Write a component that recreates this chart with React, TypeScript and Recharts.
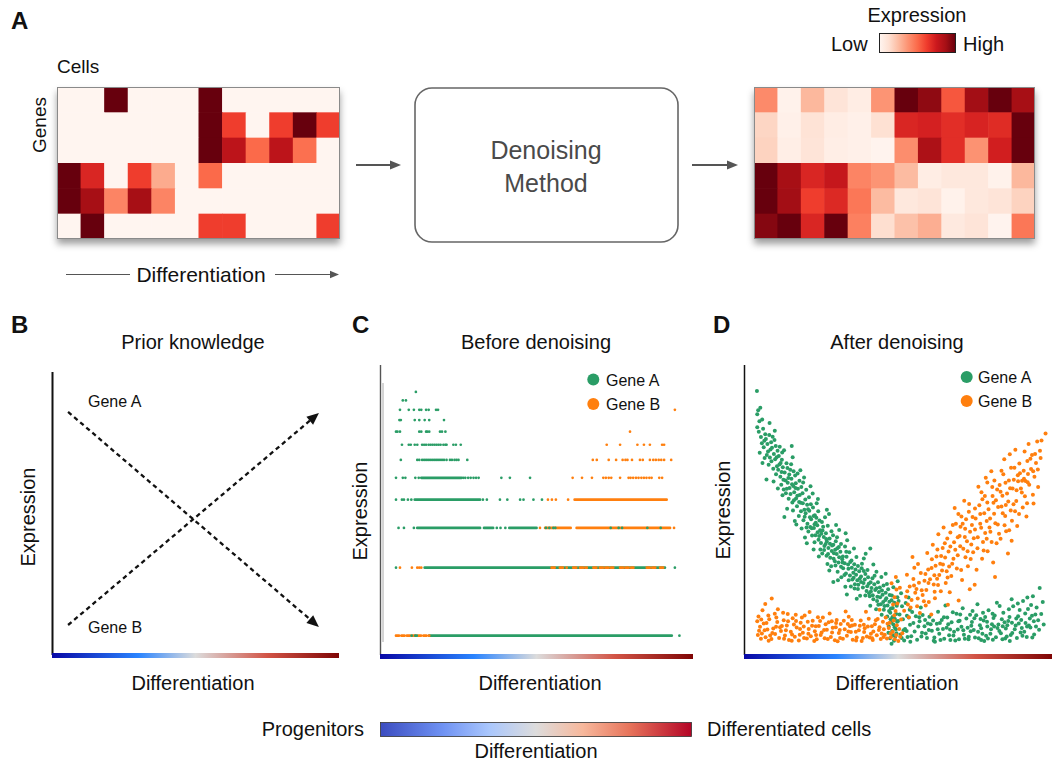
import React from 'react';
import { ScatterChart, Scatter, XAxis, YAxis } from 'recharts';

const FONT = '"Liberation Sans", Arial, Helvetica, sans-serif';
const GREEN = '#2a9d66';
const ORANGE = '#ff7f0e';
const INK = '#111';

// ---------- Panel A: heatmaps (expression 0..1, rows = genes, cols = cells) ----------
const rawExpression: number[][] = [
  [0, 0, 1, 0, 0, 0, 1, 0, 0, 0, 0, 0],
  [0, 0, 0, 0, 0, 0, 1, 0.62, 0, 0.62, 1, 0.62],
  [0, 0, 0, 0, 0, 0, 1, 0.8, 0.5, 0.8, 0.48, 0],
  [1, 0.7, 0, 0.62, 0.3, 0, 0.5, 0, 0, 0, 0, 0],
  [1, 0.87, 0.42, 0.87, 0.42, 0, 0, 0, 0, 0, 0, 0],
  [0, 1, 0, 0, 0, 0, 0.62, 0.62, 0, 0, 0, 0.62],
];
const denoisedExpression: number[][] = [
  [0.4, 0.02, 0.26, 0.1, 0.05, 0.37, 1, 0.92, 0.55, 0.88, 1, 0.87],
  [0.16, 0.03, 0.11, 0.05, 0.03, 0.12, 0.7, 0.72, 0.67, 0.71, 0.68, 1],
  [0.17, 0.04, 0.1, 0.04, 0.03, 0.01, 0.39, 0.85, 0.67, 0.375, 0.73, 1],
  [1, 0.87, 0.7, 0.77, 0.42, 0.37, 0.25, 0.05, 0.08, 0.08, 0.02, 0.26],
  [1, 0.88, 0.62, 0.69, 0.46, 0.25, 0.08, 0.1, 0.02, 0.08, 0.1, 0.17],
  [0.94, 1, 0.7, 1, 0.43, 0.13, 0.23, 0.29, 0.07, 0.1, 0.01, 0.46],
];

const REDS = ['#fff5f0', '#fee0d2', '#fcbba1', '#fc9272', '#fb6a4a', '#ef3b2c', '#cb181d', '#a50f15', '#67000d'];
function hex(h: string) {
  return [parseInt(h.slice(1, 3), 16), parseInt(h.slice(3, 5), 16), parseInt(h.slice(5, 7), 16)];
}
function reds(v: number) {
  const x = Math.max(0, Math.min(1, v)) * (REDS.length - 1);
  const i = Math.min(Math.floor(x), REDS.length - 2);
  const f = x - i;
  const a = hex(REDS[i]);
  const b = hex(REDS[i + 1]);
  const c = a.map((av, k) => Math.round(av + (b[k] - av) * f));
  return `rgb(${c[0]},${c[1]},${c[2]})`;
}

// ---------- Panel B: prior knowledge trends (pseudotime 0..100, expression 0..100) ----------
const priorGeneA = [
  { x: 5.6, y: 85.9 },
  { x: 93.0, y: 9.9 },
];
const priorGeneB = [
  { x: 5.6, y: 10.6 },
  { x: 93.0, y: 85.5 },
];

// ---------- Panel C: raw counts along pseudotime (t 0..1) ----------
const rawDotsA: [number, number[]][] = [
  [11, [0.07]],
  [10, [0.024, 0.035]],
  [9, [0.014, 0.045, 0.063, 0.082, 0.089, 0.106, 0.115, 0.141, 0.148]],
  [8, [0.012, 0.017, 0.066, 0.082, 0.101, 0.117, 0.169]],
  [7, [0.0, 0.005, 0.014, 0.082, 0.089, 0.106, 0.11, 0.117, 0.155, 0.162, 0.174]],
  [6, [0.021, 0.045, 0.052, 0.066, 0.075, 0.092, 0.099, 0.106, 0.115, 0.122, 0.129, 0.136, 0.143, 0.15, 0.157, 0.167, 0.174, 0.178, 0.202, 0.211, 0.228]],
  [5, [0.017, 0.075, 0.082, 0.092, 0.099, 0.106, 0.113, 0.12, 0.127, 0.134, 0.141, 0.148, 0.155, 0.162, 0.169, 0.178, 0.19, 0.197, 0.206, 0.213, 0.22, 0.251]],
  [4, [0.0, 0.024, 0.033, 0.068, 0.08, 0.237, 0.244, 0.254, 0.263, 0.273, 0.282, 0.291, 0.371, 0.401, 0.472]],
  [3, [0.0, 0.021, 0.028, 0.042, 0.054, 0.306, 0.32, 0.366, 0.392, 0.437, 0.449, 0.484, 0.514]],
  [2, [0.009, 0.028, 0.063, 0.355, 0.368, 0.385, 0.528, 0.54, 0.554, 0.561, 0.756, 0.784, 0.796, 0.885, 0.932]],
  [1, [0.0, 0.982]],
  [0, [0.055, 0.068, 0.073, 0.998]],
];
const rawDotsB: [number, number[]][] = [
  [9, [0.982]],
  [7, [0.824]],
  [6, [0.742, 0.789, 0.85, 0.873, 0.894, 0.937, 0.944]],
  [5, [0.693, 0.707, 0.749, 0.775, 0.798, 0.808, 0.815, 0.831, 0.859, 0.869, 0.894, 0.906, 0.915, 0.925, 0.934, 0.944, 0.969]],
  [4, [0.622, 0.655, 0.69, 0.73, 0.739, 0.749, 0.758, 0.789, 0.819, 0.826, 0.835, 0.845, 0.854, 0.864, 0.873, 0.882, 0.892, 0.9, 0.927, 0.937]],
  [3, [0.535, 0.549, 0.563, 0.606]],
  [2, [0.507, 0.979]],
  [1, [0.014, 0.056, 0.075, 0.082, 0.089, 0.601]],
];
const rawRunsA_back: [number, number, number][] = [
  [4, 0.089, 0.231],
  [3, 0.066, 0.296],
  [2, 0.075, 0.296],
  [2, 0.31, 0.342],
  [2, 0.399, 0.495],
];
const rawRunsB_back: [number, number, number][] = [
  [3, 0.629, 0.953],
  [2, 0.525, 0.615],
  [2, 0.636, 0.965],
];
const rawRunsA_front: [number, number, number][] = [
  [1, 0.101, 0.947],
  [0, 0.117, 0.971],
];
const rawRunsB_front: [number, number, number][] = [
  [0, 0.0, 0.117],
  [1, 0.548, 0.566],
  [1, 0.577, 0.589],
  [1, 0.624, 0.636],
  [1, 0.648, 0.672],
  [1, 0.695, 0.707],
  [1, 0.718, 0.765],
  [1, 0.789, 0.836],
  [1, 0.883, 0.918],
  [1, 0.93, 0.947],
];

// ---------- Panel D: denoised expression (pseudotime 0..100, expression 0..100) ----------
const denoisedA: [number, number][] = [
  [4.2, 91], [4.3, 83], [4.6, 84.4], [5.3, 85.3], [4.3, 78.5], [4.8, 77], [5.5, 75.2], [6.2, 78], [6.9, 76.1], [5.8, 73], [6.4, 71.6], [7.1, 74.5], [7.6, 72.8], [5.1, 69.7], [8.2, 75.9], [8.8, 73.4], [9.3, 75.3], [6.7, 67.9],
  [7.8, 70.2], [8.4, 68.1], [9.1, 71.5], [9.7, 69.3], [10.3, 72.1], [10.9, 70.4], [8.0, 65.6], [8.9, 66.8], [9.5, 64.2], [10.1, 67.5], [10.7, 65.1], [11.3, 68.6], [11.9, 66.2], [12.4, 69.8], [10.4, 62.3], [11.1, 63.9], [11.8, 61.5], [12.6, 64.7], [13.2, 62.9], [13.8, 66.1], [9.6, 59.8], [12.1, 58.7], [13.5, 60.2], [7.3, 60.5],
  [12.9, 57.1], [13.6, 55.8], [14.2, 59.4], [14.8, 57.6], [15.4, 60.8], [16.0, 58.3], [16.6, 61.9], [14.5, 53.9], [15.1, 55.5], [15.7, 52.6], [16.3, 56.1], [16.9, 54.0], [17.5, 57.3], [18.1, 55.2], [14.0, 50.4], [15.9, 49.8], [17.2, 51.3], [18.4, 52.5], [19.0, 55.8], [17.8, 47.9], [19.6, 50.1], [13.1, 47.6], [16.5, 46.2], [20.2, 57.0],
  [19.3, 46.5], [20.0, 48.9], [20.6, 45.3], [21.2, 49.7], [21.8, 46.8], [22.4, 50.9], [23.0, 48.2], [20.9, 42.6], [21.5, 44.1], [22.1, 41.2], [22.7, 43.8], [23.3, 45.6], [23.9, 42.3], [24.5, 46.4], [22.9, 38.9], [24.2, 39.7], [25.1, 41.8], [25.7, 44.2], [19.8, 40.5], [26.3, 47.5], [18.7, 43.6], [24.8, 36.4], [26.9, 39.1], [23.6, 52.3], [27.6, 48.6],
  [25.4, 35.0], [26.1, 37.6], [26.8, 34.2], [27.4, 36.9], [28.0, 33.5], [28.6, 37.8], [29.2, 35.1], [29.8, 39.2], [27.1, 31.4], [28.3, 30.6], [29.5, 32.3], [30.1, 34.8], [30.7, 31.9], [31.3, 35.6], [31.9, 33.0], [28.9, 41.3], [30.4, 28.7], [32.2, 29.9], [32.8, 37.4], [26.6, 42.0], [30.9, 43.1], [33.5, 39.6], [29.0, 25.2], [31.6, 26.8],
  [33.1, 28.1], [33.8, 31.2], [34.4, 27.4], [35.0, 30.1], [35.6, 26.6], [36.2, 29.5], [36.8, 25.8], [37.4, 28.9], [34.7, 23.6], [35.9, 22.9], [37.1, 24.2], [38.0, 27.1], [38.6, 23.3], [39.2, 26.0], [39.8, 22.1], [36.5, 33.8], [38.3, 31.5], [40.1, 29.3], [34.2, 35.4], [37.7, 20.4], [40.5, 24.6], [33.4, 20.9], [39.5, 34.9], [41.0, 36.7],
  [40.8, 20.3], [41.4, 23.1], [42.0, 19.2], [42.6, 22.4], [43.2, 18.6], [43.8, 21.7], [44.4, 17.5], [45.0, 20.8], [45.6, 16.9], [46.2, 19.6], [41.7, 26.5], [43.5, 25.1], [45.3, 24.0], [46.8, 22.7], [47.2, 18.4], [47.5, 14.6], [47.8, 11.2], [48.1, 8.3], [48.3, 16.2], [48.6, 12.7], [48.9, 9.6], [49.1, 6.4], [49.4, 14.1], [47.0, 9.8], [48.0, 20.5], [46.5, 13.3], [49.7, 11.5], [44.7, 13.9], [42.9, 15.8], [47.4, 5.8], [48.7, 4.9], [46.0, 28.0], [43.0, 28.7], [48.5, 23.4],
  [11.6, 71.8], [12.3, 67.3], [13.0, 70.6], [14.1, 64.5], [14.7, 62.2], [15.3, 65.8], [16.1, 63.4], [16.8, 59.2], [17.4, 62.6], [18.0, 60.1], [18.6, 57.9], [19.2, 59.5], [19.9, 53.6], [20.5, 51.8], [21.1, 54.4], [21.7, 52.0], [22.3, 55.7], [22.9, 45.1], [23.5, 47.3], [24.1, 49.6], [24.7, 43.0], [25.3, 45.9], [25.9, 40.7], [26.5, 38.3], [27.2, 44.6], [27.8, 40.2], [28.4, 42.7], [29.0, 38.0], [29.6, 36.3], [30.2, 40.6], [30.8, 37.2], [31.5, 30.4], [32.1, 34.0], [32.7, 31.6], [33.3, 33.9], [34.0, 25.8], [34.9, 32.6], [35.5, 28.4], [36.0, 24.4], [37.0, 30.7], [38.0, 25.2], [38.9, 29.0], [39.4, 20.5], [40.3, 26.8], [41.2, 21.9], [42.3, 24.4], [43.3, 20.1], [44.1, 23.3], [45.2, 18.3], [46.0, 21.5], [46.6, 17.1], [47.3, 20.7], [47.7, 16.0], [48.2, 13.1], [48.8, 18.0], [49.3, 8.9], [49.6, 17.0], [48.4, 6.8], [47.6, 12.3],
  [5.0, 80.6], [5.9, 81.2], [6.6, 73.9], [7.4, 69.0], [8.6, 70.9], [9.9, 74.1], [10.6, 68.2], [11.5, 65.7], [12.2, 63.1], [12.8, 60.4], [13.9, 57.3], [14.4, 61.0], [15.0, 63.9], [15.6, 58.9], [16.2, 53.4], [16.7, 57.6], [17.3, 54.9], [17.9, 52.8], [18.5, 49.6], [19.1, 52.3], [19.7, 47.7], [20.3, 44.0], [20.8, 50.3], [21.4, 47.5], [22.0, 43.7], [22.6, 47.9], [23.2, 41.3], [23.8, 44.7], [24.4, 41.0], [25.0, 38.6], [25.5, 42.9], [26.0, 36.2], [26.7, 40.0], [27.3, 34.8], [27.9, 38.4], [28.5, 35.9], [29.1, 33.2], [29.7, 30.9], [30.3, 36.8], [30.9, 33.7], [31.5, 38.3], [32.0, 31.9], [32.6, 27.6], [33.2, 35.6], [33.9, 29.7], [34.5, 32.1], [35.2, 26.0], [35.8, 31.3], [36.4, 27.7], [37.0, 22.8], [37.6, 26.4], [38.2, 29.9], [38.8, 24.8], [39.4, 27.9], [40.0, 23.7], [40.6, 21.3], [41.1, 25.1], [41.8, 20.6], [42.4, 27.3], [43.0, 23.0], [43.6, 17.3], [44.2, 19.9], [44.8, 22.2], [45.4, 15.6], [45.9, 19.0], [46.4, 24.5], [47.1, 15.2], [47.9, 18.9], [48.5, 10.5], [49.0, 12.4], [49.5, 7.5], [46.9, 7.7], [47.9, 3.9], [49.8, 19.9], [8.3, 80.0], [6.0, 66.2], [10.0, 77.3], [15.8, 68.2], [12.5, 55.1], [18.3, 63.7], [21.6, 58.2], [17.0, 45.0], [24.0, 53.8], [20.4, 38.5], [26.9, 50.1], [22.6, 36.4], [29.9, 44.8], [27.7, 29.1], [33.0, 42.0], [30.5, 25.8], [35.7, 36.7], [32.9, 23.5], [38.9, 33.3], [36.6, 19.4], [42.0, 31.2], [41.0, 17.0], [44.6, 26.9], [15.5, 72.1], [11.0, 57.4], [19.5, 61.2], [24.3, 34.0],
  [50.2, 18.6], [50.5, 14.0], [51.0, 21.3], [51.3, 16.8], [50.0, 11.7], [51.8, 8.5], [52.5, 17.9], [49.9, 25.4], [52.9, 13.5], [53.4, 19.8],
  [50.8, 7.1], [51.6, 12.3], [52.3, 9.0], [53.1, 6.2], [53.9, 10.4], [54.6, 14.8], [55.4, 8.1], [56.2, 5.3], [57.0, 11.6], [57.8, 7.7], [58.6, 9.9], [59.4, 5.9], [60.2, 13.2], [61.0, 8.4], [61.8, 6.0], [62.6, 10.8], [63.4, 7.3], [64.2, 12.1], [65.0, 5.6], [65.8, 9.4], [66.6, 6.8], [67.4, 11.3], [68.2, 8.0], [69.0, 14.2], [69.8, 5.4], [70.6, 9.7], [71.4, 7.0], [72.2, 12.6], [73.0, 6.3], [73.8, 10.1], [74.6, 8.6], [75.4, 13.7], [76.2, 5.8], [77.0, 9.2], [77.8, 11.9], [78.6, 6.6], [79.4, 15.4], [80.2, 8.9], [81.0, 12.8], [81.8, 6.1], [82.6, 10.5], [83.4, 7.5], [84.2, 14.6], [85.0, 9.1], [85.8, 11.7], [86.6, 6.9], [87.4, 16.8], [88.2, 10.2], [89.0, 13.4], [89.8, 7.8], [90.6, 18.6], [91.4, 11.0], [92.2, 15.9], [93.0, 9.5], [93.8, 20.3], [94.6, 14.0], [96.0, 23.1], [97.0, 18.3],
  [52.0, 5.0], [55.0, 11.0], [58.0, 13.8], [60.6, 10.6], [63.0, 14.9], [66.0, 12.9], [68.6, 5.0], [71.0, 16.1], [74.2, 15.2], [76.8, 12.4], [79.0, 9.8], [80.8, 5.3], [83.0, 16.9], [84.8, 5.7], [86.2, 13.1], [88.6, 5.9], [90.2, 9.3], [91.8, 6.2], [92.8, 12.6], [94.2, 7.1], [62.0, 4.6], [70.0, 11.8], [78.0, 4.8], [86.9, 19.2], [82.1, 18.0], [75.8, 17.5], [65.4, 17.1], [57.4, 16.4],
  [51.2, 5.9], [53.5, 12.9], [56.6, 9.8], [59.0, 7.4], [61.4, 11.9], [64.6, 9.0], [67.0, 5.2], [69.4, 8.8], [72.6, 9.4], [75.0, 6.0], [77.4, 7.3], [80.5, 10.6], [82.9, 8.3], [85.3, 6.4], [87.9, 8.9], [90.0, 12.1], [91.0, 8.0], [92.5, 10.2], [93.5, 13.5], [94.8, 9.8], [89.5, 15.5], [87.0, 11.1], [84.0, 9.9], [81.4, 13.6], [78.3, 13.1], [73.4, 13.9], [67.8, 14.7], [58.8, 12.1], [54.3, 6.5], [63.8, 5.2], [71.7, 5.6], [76.6, 10.3], [83.7, 12.3], [88.9, 17.8], [91.3, 14.3], [93.2, 17.2], [95.5, 12.0], [86.3, 4.8], [80.0, 7.3], [74.0, 11.4],
  [52.8, 8.3], [54.0, 4.6], [55.8, 13.4], [57.6, 6.4], [59.7, 10.9], [61.6, 4.9], [62.9, 8.9], [64.9, 13.0], [66.3, 10.6], [68.0, 6.7], [69.6, 11.6], [71.2, 8.5], [72.9, 5.4], [74.8, 12.7], [76.0, 8.0], [77.6, 14.6], [79.2, 5.7], [80.7, 14.2], [82.3, 9.3], [83.9, 5.4], [85.5, 10.3], [87.1, 7.6], [88.4, 12.6], [90.4, 6.6], [91.9, 9.8], [93.6, 6.0], [95.0, 16.4], [94.1, 11.6], [92.0, 19.8], [89.2, 10.9], [86.0, 15.8], [84.6, 11.3], [81.2, 9.8], [78.9, 11.5], [77.0, 5.2], [73.6, 8.2], [70.2, 14.0], [66.9, 8.8], [63.6, 11.0], [60.0, 8.6], [56.9, 13.0], [53.8, 15.6], [95.8, 8.7], [96.5, 14.1], [97.3, 10.5],
];
const denoisedB: [number, number][] = [
  [4.3, 11.6], [4.7, 13.3], [5.2, 9.7], [5.8, 7.4], [6.4, 10.9], [7.0, 6.1], [7.6, 8.8], [8.2, 12.3], [8.9, 5.5], [9.5, 9.1], [10.1, 7.2], [10.8, 11.4], [11.4, 5.9], [12.0, 8.3], [12.7, 14.6], [13.3, 6.7], [13.9, 10.2], [14.6, 5.2], [15.2, 8.0], [15.8, 12.7], [16.5, 6.3], [17.1, 9.5], [17.8, 5.0], [18.4, 11.1], [19.1, 7.7], [19.7, 13.6], [20.4, 5.7], [21.0, 9.0], [21.7, 6.5], [22.3, 11.8], [23.0, 8.2], [23.6, 5.4], [24.3, 10.0], [24.9, 6.9], [25.6, 12.9], [26.2, 5.8], [26.9, 8.7], [27.5, 11.3], [28.2, 6.2], [28.8, 9.4], [29.5, 5.1], [30.1, 12.1], [30.8, 7.6], [31.4, 10.7], [32.1, 5.6], [32.7, 8.9], [33.4, 6.6], [34.0, 13.2], [34.7, 7.9], [35.3, 5.3], [36.0, 10.4], [36.6, 6.0], [37.3, 8.5], [37.9, 11.9], [38.6, 5.9], [39.2, 9.2], [39.9, 6.4], [40.5, 12.5], [41.2, 7.3], [41.8, 5.2], [42.5, 10.6], [43.1, 6.8], [43.8, 8.6], [44.4, 5.5], [45.1, 11.5], [45.7, 7.0], [46.4, 5.7], [47.0, 9.3], [47.7, 6.1], [48.3, 8.0], [49.0, 5.4], [49.6, 10.3],
  [6.0, 15.4], [9.0, 19.5], [11.0, 15.8], [14.2, 14.1], [16.8, 13.9], [21.3, 14.8], [27.8, 14.3], [33.0, 15.0], [39.6, 14.9], [44.0, 15.6], [5.5, 5.6], [8.5, 6.7], [12.3, 10.0], [15.5, 4.9], [19.4, 9.8], [22.8, 4.8], [26.5, 10.6], [30.4, 4.7], [34.4, 9.9], [38.2, 4.8], [42.0, 8.1], [46.0, 12.9], [48.8, 13.7],
  [4.9, 8.4], [7.3, 11.0], [10.4, 9.7], [13.6, 8.5], [16.2, 10.5], [18.1, 7.0], [20.7, 11.5], [23.3, 9.9], [25.2, 7.8], [28.5, 11.6], [31.1, 8.6], [33.7, 10.7], [36.3, 8.0], [38.9, 10.4], [41.5, 9.9], [43.4, 12.4], [45.4, 8.9], [47.3, 11.1], [29.8, 9.6], [35.0, 12.1], [24.0, 13.0], [18.8, 12.9], [12.9, 12.0], [40.8, 6.0], [44.7, 7.4], [8.0, 4.9],
  [4.5, 6.9], [5.6, 12.2], [6.7, 8.5], [7.9, 13.6], [9.2, 7.6], [10.5, 12.9], [11.7, 9.6], [13.0, 5.6], [14.3, 11.6], [15.6, 7.1], [16.9, 11.7], [18.2, 9.0], [19.5, 5.9], [20.9, 7.3], [22.1, 10.1], [23.4, 6.9], [24.7, 11.7], [26.0, 8.6], [27.2, 5.5], [28.6, 7.8], [29.9, 11.0], [31.2, 5.9], [32.4, 11.8], [33.9, 8.1], [35.1, 10.2], [36.4, 5.0], [37.6, 10.1], [39.0, 7.9], [40.2, 9.8], [41.6, 5.8], [42.8, 12.0], [44.0, 9.6], [45.3, 6.2], [46.6, 10.8], [47.6, 7.3], [48.6, 11.9], [49.4, 6.9], [6.9, 17.6], [10.0, 14.2],
  [48.4, 17.4], [48.9, 19.9], [49.2, 15.2], [49.5, 22.6], [49.8, 17.8], [50.1, 4.8], [50.4, 9.0], [50.7, 6.3], [51.0, 12.2], [51.4, 7.5], [50.6, 23.2], [47.9, 24.7], [49.3, 26.9],
  [52.0, 15.3], [52.6, 20.1], [53.2, 17.4], [53.8, 23.6], [54.4, 19.0], [55.0, 26.2], [55.6, 21.5], [56.2, 16.8], [56.8, 24.9], [57.4, 28.3], [58.0, 20.7], [53.5, 13.0], [55.3, 30.1], [57.1, 14.5], [58.6, 25.6], [54.7, 33.8], [56.5, 31.4], [52.9, 27.7],
  [59.2, 22.4], [59.8, 29.5], [60.4, 26.1], [61.0, 33.0], [61.6, 24.3], [62.2, 30.8], [62.8, 36.4], [63.4, 27.6], [64.0, 34.1], [64.6, 31.2], [65.2, 38.5], [65.8, 28.9], [60.0, 18.3], [62.0, 19.6], [63.9, 22.0], [65.5, 24.8], [61.3, 38.0], [63.1, 41.6], [59.5, 35.2], [64.8, 44.0], [66.2, 17.3], [60.8, 14.0],
  [66.4, 35.7], [67.0, 42.2], [67.6, 31.5], [68.2, 38.9], [68.8, 45.3], [69.4, 34.4], [70.0, 41.0], [70.6, 47.8], [71.2, 36.6], [71.8, 43.5], [72.4, 39.2], [73.0, 49.4], [73.6, 33.1], [67.3, 27.2], [69.1, 29.8], [70.8, 25.9], [72.7, 30.6], [74.0, 44.8], [68.4, 50.7], [71.5, 53.2], [66.8, 21.6], [73.3, 22.7], [69.7, 18.8],
  [74.6, 40.3], [75.2, 47.1], [75.8, 36.8], [76.4, 51.6], [77.0, 43.9], [77.6, 39.0], [78.2, 54.8], [78.8, 46.2], [79.4, 50.3], [80.0, 42.5], [80.6, 57.9], [81.2, 48.7], [81.8, 53.4], [75.5, 29.4], [77.3, 33.2], [79.1, 35.8], [80.9, 31.9], [76.1, 58.0], [78.5, 61.1], [80.3, 63.4], [82.0, 38.5], [74.9, 24.2], [81.5, 26.9],
  [82.4, 45.0], [83.0, 58.6], [83.6, 51.2], [84.2, 62.3], [84.8, 47.9], [85.4, 55.7], [86.0, 60.2], [86.6, 49.8], [87.2, 57.4], [87.8, 64.6], [88.4, 53.1], [89.0, 59.9], [89.6, 62.7], [83.3, 40.1], [85.1, 42.7], [86.9, 39.4], [88.7, 44.5], [84.5, 67.5], [86.3, 69.2], [88.1, 70.8], [89.3, 48.6], [85.7, 35.0],
  [90.2, 56.0], [90.8, 63.5], [91.4, 60.0], [92.0, 66.9], [92.6, 58.7], [93.2, 64.1], [93.8, 55.3], [91.1, 70.2], [92.4, 72.8], [93.5, 69.0], [94.3, 61.5], [94.8, 66.2], [95.2, 73.6], [96.1, 70.4], [96.6, 74.0], [97.9, 76.4], [90.5, 50.9], [91.7, 47.8], [94.0, 52.2], [95.5, 57.9],
  [70.3, 44.2], [72.1, 46.8], [73.8, 38.1], [75.0, 50.5], [76.7, 45.3], [78.0, 48.9], [79.7, 44.0], [81.0, 52.5], [82.2, 57.1], [83.9, 54.9], [85.0, 51.7], [86.4, 57.5], [87.5, 52.0], [88.9, 62.0], [89.9, 57.4], [90.9, 60.8], [92.2, 62.4], [84.6, 44.7], [80.4, 39.0], [77.8, 36.0], [71.9, 33.7], [68.0, 33.2], [64.3, 29.1], [61.8, 27.5], [58.4, 18.5], [56.0, 22.8], [62.5, 34.0], [66.0, 40.2], [79.0, 59.5], [87.0, 46.3],
  [53.0, 22.0], [54.1, 16.4], [55.2, 24.0], [56.4, 19.5], [57.7, 22.3], [58.9, 27.9], [59.9, 24.8], [60.9, 30.0], [61.9, 21.8], [62.7, 26.3], [63.7, 31.5], [64.5, 36.9], [65.3, 33.6], [66.1, 26.7], [67.0, 37.4], [67.8, 44.8], [68.6, 36.3], [69.4, 40.6], [70.2, 37.5], [71.0, 45.3], [71.7, 40.7], [72.6, 35.8], [73.4, 42.5], [74.2, 47.6], [75.0, 43.3], [75.9, 40.6], [76.7, 48.6], [77.4, 53.7], [78.3, 42.1], [79.0, 52.6], [79.9, 47.1], [80.7, 54.8], [81.6, 45.4], [82.5, 51.0], [83.3, 56.3], [84.0, 48.9], [84.9, 59.4], [85.8, 52.9], [86.7, 64.6], [87.6, 60.4], [88.5, 56.8], [89.4, 66.0], [90.3, 60.1], [91.2, 54.7], [92.1, 59.6], [93.0, 67.7], [93.9, 63.4], [94.5, 69.3], [95.4, 64.0], [96.3, 67.9], [82.8, 41.8], [78.8, 40.1], [74.4, 35.4], [70.5, 29.3], [66.6, 30.5], [63.0, 24.1], [59.0, 17.1], [83.6, 63.5], [81.3, 60.2], [77.1, 56.1], [73.1, 52.1], [69.6, 48.6], [88.0, 49.6], [91.9, 52.3], [86.1, 43.0],
];

// ---------- helpers ----------
const lvl = (count: number) => Math.log1p(count);
const dotsToData = (rows: [number, number[]][]) =>
  rows.flatMap(([c, ts]) => ts.map((t) => ({ x: t, y: lvl(c) })));
const pairsToData = (rows: [number, number][]) => rows.map(([x, y]) => ({ x, y }));

const Empty = () => <g />;

function ArrowPath(props: any) {
  const { points, color } = props;
  if (!points || points.length < 2) return null;
  const p0 = points[0];
  const p1 = points[points.length - 1];
  const dx = p1.x - p0.x;
  const dy = p1.y - p0.y;
  const L = Math.hypot(dx, dy);
  const ux = dx / L;
  const uy = dy / L;
  const headL = 12;
  const headW = 5.2;
  const bx = p1.x - ux * headL;
  const by = p1.y - uy * headL;
  return (
    <g>
      <line x1={p0.x} y1={p0.y} x2={bx + ux * 2} y2={by + uy * 2} stroke={color} strokeWidth={2.3} strokeDasharray="4.5 3.5" />
      <polygon
        points={`${p1.x},${p1.y} ${bx - uy * headW},${by + ux * headW} ${bx + uy * headW},${by - ux * headW}`}
        fill={color}
      />
    </g>
  );
}

function Heatmap({ matrix, left, top, width, height }: { matrix: number[][]; left: number; top: number; width: number; height: number }) {
  const nr = matrix.length;
  const nc = matrix[0].length;
  const cw = width / nc;
  const ch = height / nr;
  const data = matrix.flatMap((row, r) => row.map((v, c) => ({ col: c, row: r, v })));
  return (
    <div style={{ position: 'absolute', left, top, width, height }}>
      <div
        style={{
          position: 'absolute',
          left: 0,
          top: 0,
          width,
          height,
          boxShadow: '0 5px 7px rgba(0,0,0,0.38)',
        }}
      />
      <div style={{ position: 'absolute', left: 0, top: 0 }}>
        <ScatterChart width={width} height={height} margin={{ top: 0, right: 0, bottom: 0, left: 0 }}>
          <XAxis type="number" dataKey="col" domain={[-0.5, nc - 0.5]} allowDataOverflow hide />
          <YAxis type="number" dataKey="row" domain={[-0.5, nr - 0.5]} allowDataOverflow reversed hide />
          <Scatter
            data={data}
            isAnimationActive={false}
            shape={(p: any) => (
              <rect x={p.cx - cw / 2} y={p.cy - ch / 2} width={cw + 0.6} height={ch + 0.6} fill={reds(p.payload.v)} />
            )}
          />
        </ScatterChart>
      </div>
      <div style={{ position: 'absolute', left: 0, top: 0, width, height, border: '1px solid #8a8a8a', boxSizing: 'border-box' }} />
    </div>
  );
}

function runSeries(runs: [number, number, number][], color: string, key: string, dashed = false) {
  return runs.map(([c, a, b], i) => (
    <Scatter
      key={`${key}${i}`}
      data={[
        { x: a, y: lvl(c) },
        { x: b, y: lvl(c) },
      ]}
      isAnimationActive={false}
      shape={Empty}
      line={{ stroke: color, strokeWidth: 2.7, strokeLinecap: 'round', strokeDasharray: dashed ? '3 2.5' : undefined }}
    />
  ));
}

const dotShape = (color: string, r: number) => (p: any) => <circle cx={p.cx} cy={p.cy} r={r} fill={color} />;

function Txt(props: any) {
  const { children, size = 20, anchor = 'start', weight = 400, fill = INK, ...rest } = props;
  return (
    <text fontFamily={FONT} fontSize={size} textAnchor={anchor} fontWeight={weight} fill={fill} {...rest}>
      {children}
    </text>
  );
}

export default function App() {
  const dotsA = dotsToData(rawDotsA);
  const dotsB = dotsToData(rawDotsB);
  const dA = pairsToData(denoisedA);
  const dB = pairsToData(denoisedB);

  return (
    <div style={{ position: 'absolute', left: 0, top: 0, width: 1052, height: 764, background: '#fff', overflow: 'hidden', fontFamily: FONT }}>
      <Heatmap matrix={rawExpression} left={57} top={87} width={283} height={152} />
      <Heatmap matrix={denoisedExpression} left={754} top={87} width={281} height={152} />

      <div style={{ position: 'absolute', left: 52, top: 372 }}>
        <ScatterChart width={287} height={283} margin={{ top: 0, right: 0, bottom: 0, left: 0 }}>
          <XAxis type="number" dataKey="x" domain={[0, 100]} allowDataOverflow hide />
          <YAxis type="number" dataKey="y" domain={[0, 100]} allowDataOverflow hide />
          <Scatter data={priorGeneA} isAnimationActive={false} shape={Empty} line={<ArrowPath color="#111" />} />
          <Scatter data={priorGeneB} isAnimationActive={false} shape={Empty} line={<ArrowPath color="#111" />} />
        </ScatterChart>
      </div>

      <div style={{ position: 'absolute', left: 381, top: 365 }}>
        <ScatterChart width={312} height={290} margin={{ top: 0, right: 0, bottom: 0, left: 0 }}>
          <XAxis type="number" dataKey="x" domain={[-0.0528, 1.0458]} allowDataOverflow hide />
          <YAxis type="number" dataKey="y" domain={[-0.197, 2.759]} allowDataOverflow hide />
          {runSeries(rawRunsA_back, GREEN, 'ga')}
          {runSeries(rawRunsB_back, ORANGE, 'ob')}
          {runSeries(rawRunsA_front, GREEN, 'gf')}
          {runSeries(rawRunsB_front, ORANGE, 'of', true)}
          <Scatter data={dotsA} isAnimationActive={false} shape={dotShape(GREEN, 1.35)} />
          <Scatter data={dotsB} isAnimationActive={false} shape={dotShape(ORANGE, 1.35)} />
        </ScatterChart>
      </div>

      <div style={{ position: 'absolute', left: 744, top: 365 }}>
        <ScatterChart width={308} height={290} margin={{ top: 0, right: 0, bottom: 0, left: 0 }}>
          <XAxis type="number" dataKey="x" domain={[0, 100]} allowDataOverflow hide />
          <YAxis type="number" dataKey="y" domain={[0, 100]} allowDataOverflow hide />
          <Scatter data={dA} isAnimationActive={false} shape={dotShape(GREEN, 2.0)} />
          <Scatter data={dB} isAnimationActive={false} shape={dotShape(ORANGE, 2.0)} />
        </ScatterChart>
      </div>

      <svg width={1052} height={764} style={{ position: 'absolute', left: 0, top: 0, pointerEvents: 'none' }}>
        <defs>
          <linearGradient id="redsGrad" x1="0" x2="1" y1="0" y2="0">
            {REDS.map((c, i) => (
              <stop key={i} offset={i / (REDS.length - 1)} stopColor={c} />
            ))}
          </linearGradient>
          <linearGradient id="axisGrad" x1="0" x2="1" y1="0" y2="0">
            <stop offset="0" stopColor="#0808a6" />
            <stop offset="0.3" stopColor="#2a84ff" />
            <stop offset="0.5" stopColor="#dcdcdc" />
            <stop offset="0.75" stopColor="#d25446" />
            <stop offset="1" stopColor="#7f0505" />
          </linearGradient>
          <linearGradient id="coolwarm" x1="0" x2="1" y1="0" y2="0">
            <stop offset="0" stopColor="#3b4cc0" />
            <stop offset="0.2" stopColor="#6f92f3" />
            <stop offset="0.35" stopColor="#aac7fd" />
            <stop offset="0.5" stopColor="#dddcdc" />
            <stop offset="0.65" stopColor="#f7b89c" />
            <stop offset="0.8" stopColor="#e7745b" />
            <stop offset="1" stopColor="#b40426" />
          </linearGradient>
        </defs>

        <Txt x={11} y={29} size={24} weight={700}>A</Txt>
        <Txt x={57} y={73} size={19}>Cells</Txt>
        <Txt x={0} y={0} size={19} anchor="middle" transform="translate(46,125) rotate(-90)">Genes</Txt>
        <Txt x={201} y={282} size={21} anchor="middle">Differentiation</Txt>
        <line x1={66} y1={274.5} x2={130} y2={274.5} stroke="#555" strokeWidth={1.2} />
        <line x1={275} y1={274.5} x2={331} y2={274.5} stroke="#555" strokeWidth={1.2} />
        <polygon points="339,274.5 330,270.8 330,278.2" fill="#555" />

        <line x1={356} y1={165} x2={391} y2={165} stroke="#555" strokeWidth={1.8} />
        <polygon points="401,165 390,160.5 390,169.5" fill="#555" />
        <line x1={692} y1={165} x2={728} y2={165} stroke="#555" strokeWidth={1.8} />
        <polygon points="738,165 727,160.5 727,169.5" fill="#555" />

        <rect x={415} y={88} width={263} height={154} rx={17} ry={17} fill="none" stroke="#666" strokeWidth={1.6} />
        <Txt x={546} y={159} size={25} anchor="middle" fill="#4a4a4a">Denoising</Txt>
        <Txt x={546} y={192} size={25} anchor="middle" fill="#4a4a4a">Method</Txt>

        <Txt x={917} y={22} size={20} anchor="middle">Expression</Txt>
        <Txt x={831} y={51} size={20}>Low</Txt>
        <rect x={879.5} y={33.5} width={76} height={19} fill="url(#redsGrad)" stroke="#222" strokeWidth={1} />
        <Txt x={963} y={51} size={20}>High</Txt>

        <Txt x={11} y={333} size={24} weight={700}>B</Txt>
        <Txt x={193} y={349} size={20} anchor="middle">Prior knowledge</Txt>
        <line x1={52.5} y1={372} x2={52.5} y2={655} stroke="#111" strokeWidth={2} />
        <rect x={52} y={653} width={287} height={5} fill="url(#axisGrad)" />
        <Txt x={0} y={0} size={20} anchor="middle" transform="translate(35,517) rotate(-90)">Expression</Txt>
        <Txt x={193} y={690} size={20} anchor="middle">Differentiation</Txt>
        <Txt x={88} y={407} size={16}>Gene A</Txt>
        <Txt x={88} y={632.5} size={16}>Gene B</Txt>

        <Txt x={352} y={333} size={24} weight={700}>C</Txt>
        <Txt x={536} y={349} size={20} anchor="middle">Before denoising</Txt>
        <line x1={380.5} y1={365} x2={380.5} y2={655} stroke="#555" strokeWidth={1.4} />
        <line x1={383} y1={383} x2={383} y2={642} stroke="#aaa" strokeWidth={1} />
        <rect x={380} y={654} width={313} height={5} fill="url(#axisGrad)" />
        <Txt x={0} y={0} size={20} anchor="middle" transform="translate(367,511) rotate(-90)">Expression</Txt>
        <Txt x={540} y={690} size={20} anchor="middle">Differentiation</Txt>
        <circle cx={593.3} cy={379.5} r={6} fill={GREEN} />
        <Txt x={606} y={385.5} size={16}>Gene A</Txt>
        <circle cx={593.3} cy={404} r={6} fill={ORANGE} />
        <Txt x={606} y={410} size={16}>Gene B</Txt>

        <Txt x={713} y={333} size={24} weight={700}>D</Txt>
        <Txt x={897} y={349} size={20} anchor="middle">After denoising</Txt>
        <line x1={744.5} y1={365} x2={744.5} y2={655} stroke="#111" strokeWidth={1.5} />
        <rect x={744} y={654} width={308} height={5} fill="url(#axisGrad)" />
        <Txt x={0} y={0} size={20} anchor="middle" transform="translate(730,510) rotate(-90)">Expression</Txt>
        <Txt x={897} y={690} size={20} anchor="middle">Differentiation</Txt>
        <circle cx={966.7} cy={377} r={6} fill={GREEN} />
        <Txt x={978} y={383} size={16}>Gene A</Txt>
        <circle cx={966.7} cy={401} r={6} fill={ORANGE} />
        <Txt x={978} y={407} size={16}>Gene B</Txt>

        <Txt x={364} y={736} size={20} anchor="end">Progenitors</Txt>
        <rect x={380.5} y={722.5} width={311} height={14} fill="url(#coolwarm)" stroke="#333" strokeWidth={0.8} />
        <Txt x={707} y={736} size={20}>Differentiated cells</Txt>
        <Txt x={536} y={758} size={20} anchor="middle">Differentiation</Txt>
      </svg>
    </div>
  );
}
